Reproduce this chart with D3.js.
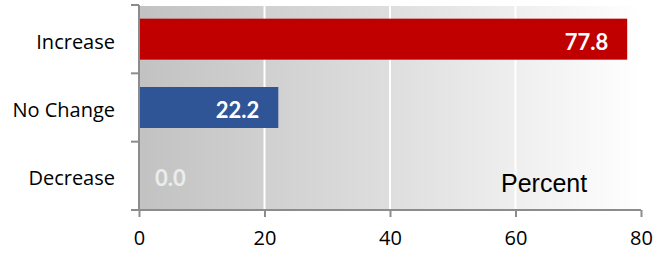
<!DOCTYPE html>
<html>
<head>
<meta charset="utf-8">
<script src="https://cdn.jsdelivr.net/npm/d3@7"></script>
<style>
  html, body { margin: 0; padding: 0; background: #ffffff; }
  svg { display: block; }
</style>
</head>
<body>
<svg id="chart" width="657" height="255"></svg>
<script>
const categories = ["Increase", "No Change", "Decrease"];
const values = [77.8, 22.2, 0.0];
const barColors = ["#c00000", "#2f5597", "#2f5597"];
const xTicks = [0, 20, 40, 60, 80];
const axisTitle = "Percent";

const svg = d3.select("#chart");
const pLeft = 139, pRight = 641, pTop = 5, pBottom = 210;

const x = d3.scaleLinear().domain([0, 80]).range([pLeft, pRight]);
const y = d3.scaleBand().domain(categories).range([pTop, pBottom]).paddingInner(0.4).paddingOuter(0.2);

const defs = svg.append("defs");
const grad = defs.append("linearGradient").attr("id", "bg").attr("x1", "0%").attr("x2", "100%").attr("y1", "0%").attr("y2", "0%");
grad.append("stop").attr("offset", "0%").attr("stop-color", "#c2c2c2");
grad.append("stop").attr("offset", "50%").attr("stop-color", "#dedede");
grad.append("stop").attr("offset", "100%").attr("stop-color", "#ffffff");

svg.append("rect").attr("x", pLeft).attr("y", pTop + 1).attr("width", pRight - pLeft).attr("height", pBottom - pTop - 1).attr("fill", "url(#bg)");

// gridlines
svg.append("g").selectAll("line").data(xTicks.filter(d => d > 0 && d < 80)).join("line")
  .attr("x1", d => x(d)).attr("x2", d => x(d)).attr("y1", pTop + 1).attr("y2", pBottom)
  .attr("stroke", "#ffffff").attr("stroke-width", 2);

// bars
svg.append("g").selectAll("rect").data(categories).join("rect")
  .attr("x", x(0)).attr("y", d => y(d))
  .attr("width", (d, i) => x(values[i]) - x(0))
  .attr("height", y.bandwidth())
  .attr("fill", (d, i) => barColors[i]);

// value labels
svg.append("g").selectAll("text").data(categories).join("text")
  .attr("x", (d, i) => values[i] > 5 ? x(values[i]) - 19 : x(0) + 16)
  .attr("y", d => y(d) + y.bandwidth() / 2 + 10.5)
  .attr("text-anchor", (d, i) => values[i] > 5 ? "end" : "start")
  .attr("font-family", "Lato, 'Open Sans', sans-serif")
  .attr("font-weight", "bold")
  .attr("font-size", 22)
  .attr("fill", (d, i) => values[i] > 0 ? "#ffffff" : "#ececec")
  .text((d, i) => values[i].toFixed(1));

// axes
const axisColor = "#8c8c8c";
const gx = svg.append("g").attr("transform", `translate(0,${pBottom})`)
  .call(d3.axisBottom(x).tickValues(xTicks).tickSize(7).tickPadding(14).tickSizeOuter(0));
gx.select(".domain").remove();
gx.append("line").attr("x1", pLeft - 8).attr("x2", pRight).attr("y1", 0).attr("y2", 0)
  .attr("stroke", axisColor).attr("stroke-width", 2);
gx.selectAll(".tick line").attr("stroke", axisColor).attr("stroke-width", 2);
gx.selectAll(".tick text").attr("font-family", "'Open Sans', Lato, sans-serif").attr("font-size", 20).attr("fill", "#000");

const gy = svg.append("g");
gy.append("line").attr("x1", pLeft).attr("x2", pLeft).attr("y1", pTop).attr("y2", pBottom)
  .attr("stroke", axisColor).attr("stroke-width", 2);
const boundaries = [pTop].concat(categories.map(c => y(c) + y.bandwidth() + y.step() * y.paddingInner() / 2));
gy.selectAll("line.t").data(boundaries).join("line").attr("class", "t")
  .attr("x1", pLeft - 8).attr("x2", pLeft).attr("y1", d => d).attr("y2", d => d)
  .attr("stroke", axisColor).attr("stroke-width", 2);
gy.selectAll("text").data(categories).join("text")
  .attr("x", 115).attr("y", d => y(d) + y.bandwidth() / 2 + 9.5)
  .attr("text-anchor", "end")
  .attr("font-family", "'Open Sans', Lato, sans-serif")
  .attr("font-size", 20)
  .attr("fill", "#000")
  .text(d => d);

svg.append("text").attr("x", 501).attr("y", 191.5)
  .attr("font-family", "'Liberation Sans', Arial, sans-serif")
  .attr("font-size", 25).attr("fill", "#000")
  .text(axisTitle);
</script>
</body>
</html>
